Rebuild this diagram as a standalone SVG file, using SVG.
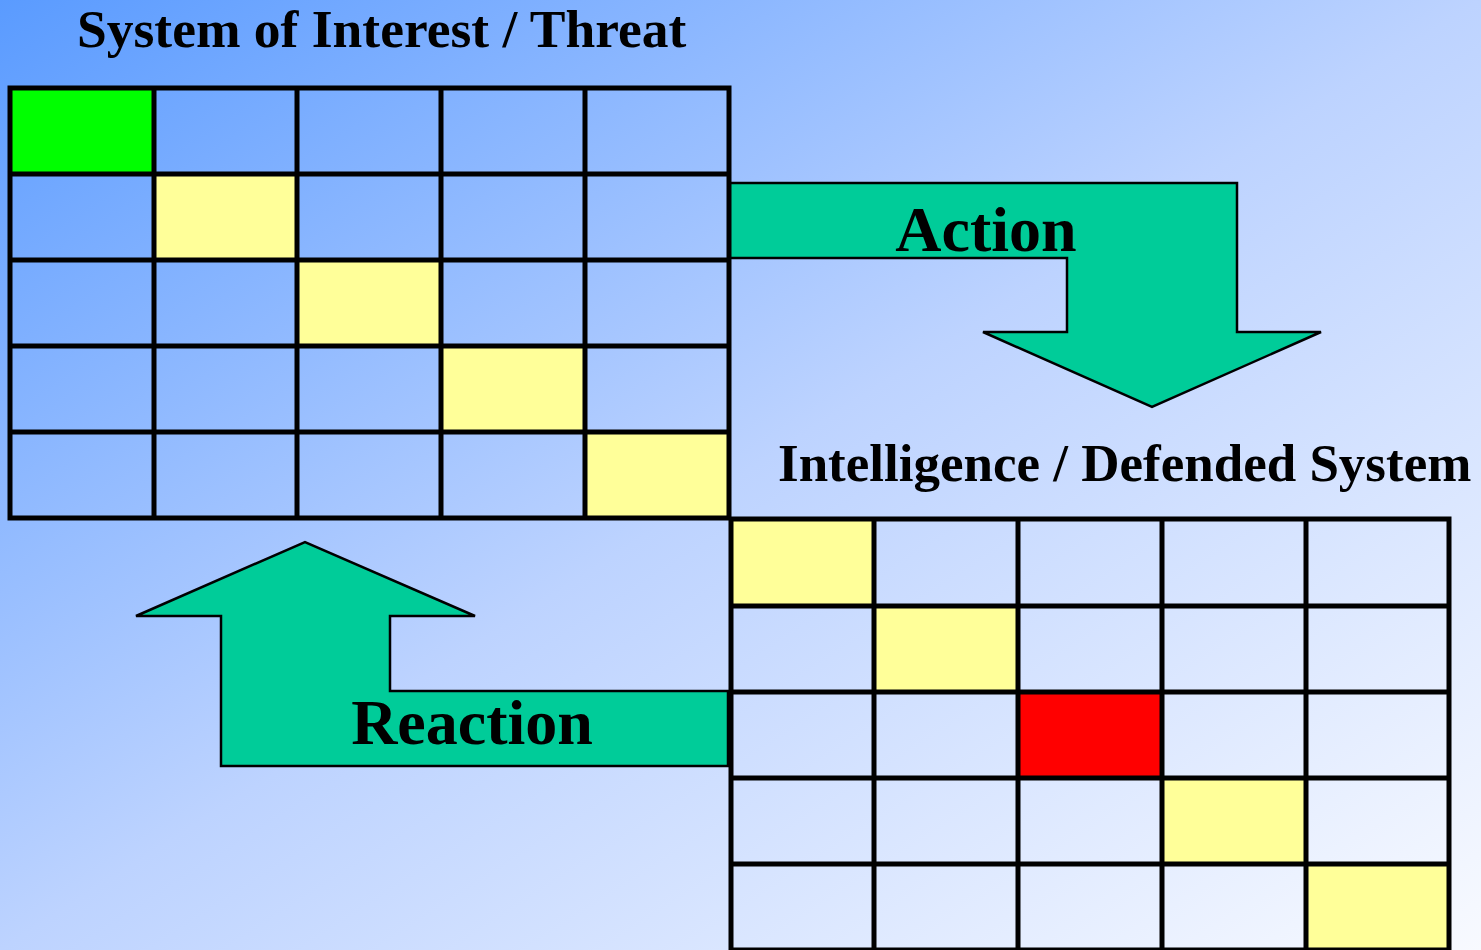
<svg xmlns="http://www.w3.org/2000/svg" width="1481" height="950" viewBox="0 0 1481 950">
<defs>
<linearGradient id="bg" x1="0" y1="0" x2="1" y2="1">
<stop offset="0" stop-color="#5a9bff"/>
<stop offset="0.5" stop-color="#bdd3ff"/>
<stop offset="1" stop-color="#f8faff"/>
</linearGradient>
<style>
.title{font-family:"Liberation Serif","Times New Roman",serif;font-weight:bold;font-size:53.5px;fill:#000}
.title2{font-size:53px}
.lbl{font-family:"Liberation Serif","Times New Roman",serif;font-weight:bold;font-size:64px;fill:#000}
.grid{fill:none;stroke:#000;stroke-width:5;stroke-linecap:square}
.arrow{fill:#00cc99;stroke:#000;stroke-width:2.5;stroke-linejoin:miter}
.g{fill:#00ff00}.y{fill:#ffff99}.r{fill:#ff0000}
</style>
</defs>
<rect x="0" y="0" width="1481" height="950" fill="url(#bg)"/>

<g id="connectors">
<g id="action-arrow">
<path class="arrow" d="M729,183 L1237,183 L1237,332 L1321,332 L1152,407 L983,332 L1067,332 L1067,258 L729,258 Z"/>
<text class="lbl" x="986" y="251" text-anchor="middle">Action</text>
</g>
<g id="reaction-arrow">
<path class="arrow" d="M728,691 L390,691 L390,616 L475,616 L305,542 L136,616 L221,616 L221,766 L728,766 Z"/>
<text class="lbl" x="472" y="744" text-anchor="middle">Reaction</text>
</g>
</g>

<g id="threat-matrix">
<text class="title" x="77" y="47">System of Interest / Threat</text>
<rect class="g" x="10" y="88" width="144" height="86"/>
<rect class="y" x="154" y="174" width="143" height="86"/>
<rect class="y" x="297" y="260" width="144" height="86"/>
<rect class="y" x="441" y="346" width="144" height="86"/>
<rect class="y" x="585" y="432" width="144" height="86"/>
<path class="grid" d="M10,88H729M10,174H729M10,260H729M10,346H729M10,432H729M10,518H729M10,88V518M154,88V518M297,88V518M441,88V518M585,88V518M729,88V518"/>
</g>

<g id="defended-matrix">
<text class="title title2" x="778" y="481">Intelligence / Defended System</text>
<rect class="y" x="731" y="519" width="143" height="87"/>
<rect class="y" x="874" y="606" width="144" height="86"/>
<rect class="r" x="1018" y="692" width="144" height="86"/>
<rect class="y" x="1162" y="778" width="144" height="86"/>
<rect class="y" x="1306" y="864" width="143" height="86"/>
<path class="grid" d="M731,519H1449M731,606H1449M731,692H1449M731,778H1449M731,864H1449M731,950H1449M731,519V950M874,519V950M1018,519V950M1162,519V950M1306,519V950M1449,519V950"/>
</g>
</svg>
